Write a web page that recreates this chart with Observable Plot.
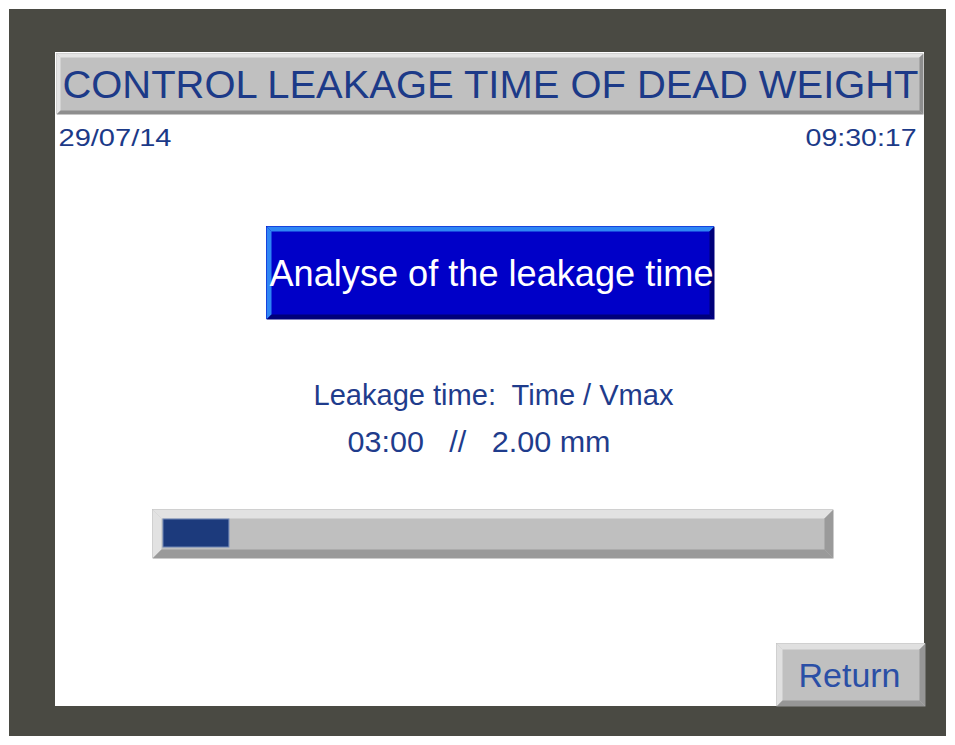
<!DOCTYPE html>
<html><head><meta charset="utf-8">
<script src="https://cdn.jsdelivr.net/npm/d3@7"></script>
<script src="https://cdn.jsdelivr.net/npm/@observablehq/plot@0.6"></script>
<style>
body{margin:0;background:#fff}
#chart svg text{white-space:pre}
</style>
</head><body><div id="chart"></div>
<script>
// ---- data ----
const titleLabel = "CONTROL LEAKAGE TIME OF DEAD WEIGHT";
const dateLabel = "29/07/14";
const timeLabel = "09:30:17";
const buttonLabel = "Analyse of the leakage time";
const infoLabels = ["Leakage time:  Time / Vmax", "03:00   //   2.00 mm"];
const returnLabel = "Return";
const progressValue = [10];       // percent of leakage time elapsed
const progressDomain = [0, 100];

// ---- layout (screen geometry) ----
const W = 955, H = 745;
const frame = {x1: 9, y1: 9, x2: 946, y2: 736};
const panel = {x1: 55, y1: 52, x2: 924, y2: 706};
const boxes = [
  {name: "title",  x1: 56,  y1: 53,  x2: 923, y2: 114, b: 4, light: "#e4e4e4", face: "#c0c0c0", dark: "#8e8e8e"},
  {name: "button", x1: 266, y1: 226, x2: 714, y2: 319, b: 5, light: "#2f86f4", face: "#0000c8", dark: "#00007a"},
  {name: "track",  x1: 152, y1: 509, x2: 833, y2: 558, b: 9, light: "#e2e2e2", face: "#bfbfbf", dark: "#9a9a9a"},
  {name: "return", x1: 776, y1: 643, x2: 925, y2: 706, b: 6, light: "#e0e0e0", face: "#c0c0c0", dark: "#969696"}
];
const trackInner = {x1: 163, x2: 822, y1: 519, y2: 547};

// bevel polygons
function bevelPolys(bx) {
  const {x1, y1, x2, y2, b} = bx;
  const light = [
    {p: "t", pts: [[x1,y1],[x2,y1],[x2-b,y1+b],[x1+b,y1+b]]},
    {p: "l", pts: [[x1,y1],[x1+b,y1+b],[x1+b,y2-b],[x1,y2]]}
  ];
  const dark = [
    {p: "b", pts: [[x1,y2],[x1+b,y2-b],[x2-b,y2-b],[x2,y2]]},
    {p: "r", pts: [[x2,y1],[x2,y2],[x2-b,y2-b],[x2-b,y1+b]]}
  ];
  const flat = arr => arr.flatMap(d => d.pts.map(([x, y]) => ({x, y, p: d.p})));
  return {light: flat(light), dark: flat(dark)};
}

const marks = [];
marks.push(Plot.rect([frame], {x1: "x1", x2: "x2", y1: "y1", y2: "y2", fill: "#4a4a43"}));
marks.push(Plot.rect([panel], {x1: "x1", x2: "x2", y1: "y1", y2: "y2", fill: "#ffffff"}));
for (const bx of boxes) {
  marks.push(Plot.rect([bx], {x1: "x1", x2: "x2", y1: "y1", y2: "y2", fill: bx.face}));
  const pp = bevelPolys(bx);
  marks.push(Plot.line(pp.light, {x: "x", y: "y", z: "p", fill: bx.light, stroke: "none"}));
  marks.push(Plot.line(pp.dark, {x: "x", y: "y", z: "p", fill: bx.dark, stroke: "none"}));
}
// progress fill (value mapped onto the inner track)
const pScale = d3.scaleLinear().domain(progressDomain).range([trackInner.x1, trackInner.x2]);
marks.push(Plot.rect(progressValue, {
  x1: () => trackInner.x1, x2: d => pScale(d),
  y1: () => trackInner.y1, y2: () => trackInner.y2,
  fill: "#1c3a7c", stroke: "#6f86b6", strokeWidth: 1
}));

// texts
const navy = "#1c3a88";
const texts = [
  {label: titleLabel,    x: 490, y: 85,  anchor: "middle", size: 38, width: 856, fill: navy},
  {label: dateLabel,     x: 58,  y: 138, anchor: "start",  size: 24, width: 113, fill: navy},
  {label: timeLabel,     x: 916, y: 138, anchor: "end",    size: 24, width: 111, fill: navy},
  {label: buttonLabel,   x: 491, y: 274, anchor: "middle", size: 37, width: 444, fill: "#ffffff"},
  {label: infoLabels[0], x: 313, y: 395, anchor: "start",  size: 29, width: 360, fill: "#1f3c8c"},
  {label: infoLabels[1], x: 347, y: 442, anchor: "start",  size: 29, width: 263, fill: "#1f3c8c"},
  {label: returnLabel,   x: 849, y: 676, anchor: "middle", size: 33, width: 102, fill: "#2a4fa6"}
];
for (const t of texts) {
  marks.push(Plot.text([t], {
    x: "x", y: "y", text: "label", textAnchor: t.anchor, fontSize: t.size,
    fill: t.fill, fontFamily: "'Liberation Sans', Arial, sans-serif"
  }));
}

const svg = Plot.plot({
  width: W, height: H,
  margin: 0,
  x: {type: "linear", domain: [0, W], range: [0, W], axis: null},
  y: {type: "linear", domain: [0, H], range: [0, H], axis: null},
  style: {background: "#ffffff"},
  marks
});

// stretch texts horizontally to match the HMI pixel font widths
const byLabel = new Map(texts.map(t => [t.label, t]));
d3.select(svg).selectAll("text").each(function() {
  const t = byLabel.get(this.textContent);
  if (t) {
    this.setAttribute("textLength", t.width);
    this.setAttribute("lengthAdjust", "spacingAndGlyphs");
  }
});
document.getElementById("chart").appendChild(svg);
</script>
</body></html>
